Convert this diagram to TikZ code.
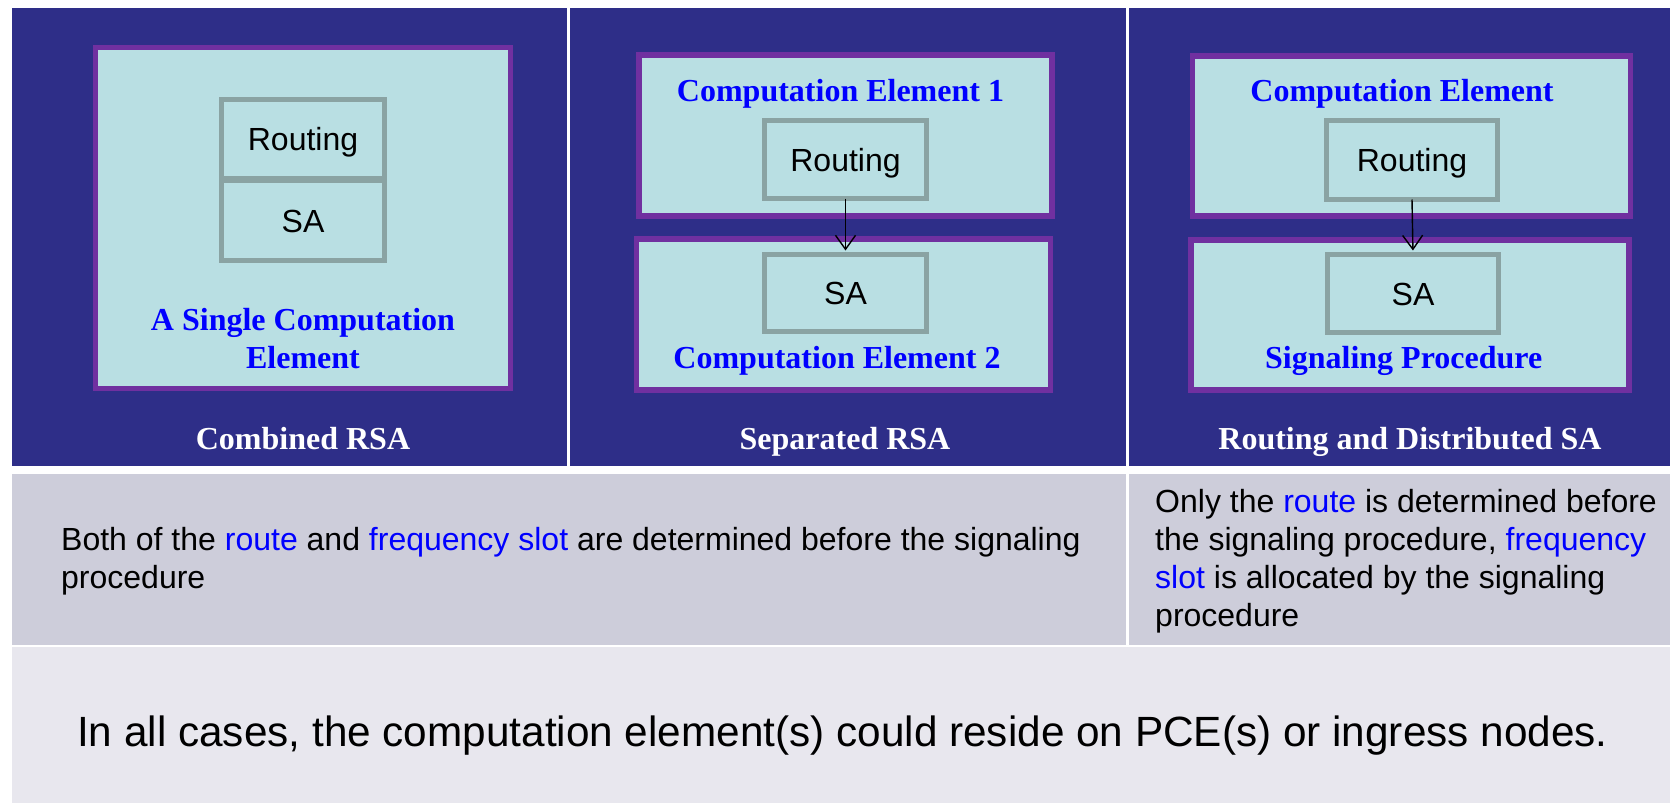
\documentclass[tikz,border=0pt]{standalone}
\usepackage{fontspec}
\setmainfont{Liberation Serif}
\newfontfamily\arialf{Liberation Sans}
\usetikzlibrary{arrows.meta}
\definecolor{panelblue}{RGB}{46,46,136}
\definecolor{cepurple}{RGB}{112,48,160}
\definecolor{cecyan}{RGB}{185,223,227}
\definecolor{boxgray}{RGB}{138,163,163}
\definecolor{rowgray}{RGB}{205,205,218}
\definecolor{rowlight}{RGB}{232,231,238}
\definecolor{hiblue}{RGB}{0,0,255}
\tikzset{
  cebox/.style={draw=cepurple, line width=5.5pt, fill=cecyan, inner sep=0pt, outer sep=0pt},
  algbox/.style={draw=boxgray, line width=4.7pt, fill=cecyan, inner sep=0pt, outer sep=0pt,
    font=\arialf\fontsize{32}{38}\selectfont, text height=23pt, text depth=0pt},
  cetitle/.style={anchor=base, inner sep=0pt, text=hiblue, font=\bfseries\fontsize{32}{38}\selectfont},
  paneltitle/.style={anchor=base, inner sep=0pt, text=white, font=\bfseries\fontsize{32}{38}\selectfont},
  bodytext/.style={anchor=base west, inner sep=0pt, align=left, font=\arialf\fontsize{32}{38}\selectfont},
  flowarrow/.style={draw=black, line width=1.4pt, -{Straight Barb[length=14pt,width=20pt,line width=1.4pt]}, shorten >=4pt}
}
\newcommand{\hl}[1]{\textcolor{hiblue}{#1}}
\begin{document}
\begin{tikzpicture}[x=1pt,y=-1pt]
\useasboundingbox (0,0) rectangle (1670,803);
\fill[white] (0,0) rectangle (1670,803);
% dark panels
\fill[panelblue] (12,8) rectangle (567,466);
\fill[panelblue] (570,8) rectangle (1125.5,466);
\fill[panelblue] (1128.5,8) rectangle (1670,466);
% gray rows
\fill[rowgray] (12,474) rectangle (1125.5,645);
\fill[rowgray] (1128.5,474) rectangle (1670,645);
\fill[rowlight] (12,647) rectangle (1670,803);

% Panel 1: combined RSA
\node[cebox, minimum width=415pt, minimum height=340.6pt] (ce1) at (302.8,218) {};
\node[algbox, minimum width=163pt, minimum height=78.6pt] (r1) at (303,138.7) {Routing};
\node[algbox, minimum width=163pt, minimum height=79.6pt] (s1) at (303,220.8) {SA};
\node[cetitle, align=center] (t1) at (303,368) {A Single Computation\\Element};
\node[paneltitle] (p1) at (303,449) {Combined RSA};

% Panel 2: separated RSA
\node[cebox, minimum width=413.4pt, minimum height=161.4pt] (ce2a) at (845.5,135.5) {};
\node[cebox, minimum width=414pt, minimum height=151.4pt] (ce2b) at (843.7,314.5) {};
\node[algbox, minimum width=162pt, minimum height=78pt] (r2) at (845.5,159.5) {Routing};
\node[algbox, minimum width=162pt, minimum height=77pt] (s2) at (845.5,293) {SA};
\node[cetitle] (t2a) at (840.5,101) {Computation Element 1};
\node[cetitle] (t2b) at (837,368) {Computation Element 2};
\node[paneltitle] (p2) at (845,449) {Separated RSA};
\draw[flowarrow] (r2.south) -- (s2.north);

% Panel 3: routing and distributed SA
\node[cebox, minimum width=438pt, minimum height=160.4pt] (ce3a) at (1411.7,136) {};
\node[cebox, minimum width=438.4pt, minimum height=150.4pt] (ce3b) at (1410,315) {};
\node[algbox, minimum width=171pt, minimum height=79pt] (r3) at (1412,160) {Routing};
\node[algbox, minimum width=171pt, minimum height=78pt] (s3) at (1413,293.5) {SA};
\node[cetitle] (t3a) at (1402,101) {Computation Element};
\node[cetitle] (t3b) at (1403.7,368) {Signaling Procedure};
\node[paneltitle] (p3) at (1410,449) {Routing and Distributed SA};
\draw[flowarrow] (r3.south) -- (s3.north);

% descriptions
\node[bodytext] (d1) at (61,588.5) {Both of the \hl{route} and \hl{frequency slot} are determined before the signaling\\procedure};
\node[bodytext] (d2) at (1155,626.5) {Only the \hl{route} is determined before\\the signaling procedure, \hl{frequency}\\\hl{slot} is allocated by the signaling\\procedure};
\node[anchor=base west, inner sep=0pt, font=\arialf\fontsize{42.3}{50}\selectfont] (note) at (77,746) {In all cases, the computation element(s) could reside on PCE(s) or ingress nodes.};
\end{tikzpicture}
\end{document}
